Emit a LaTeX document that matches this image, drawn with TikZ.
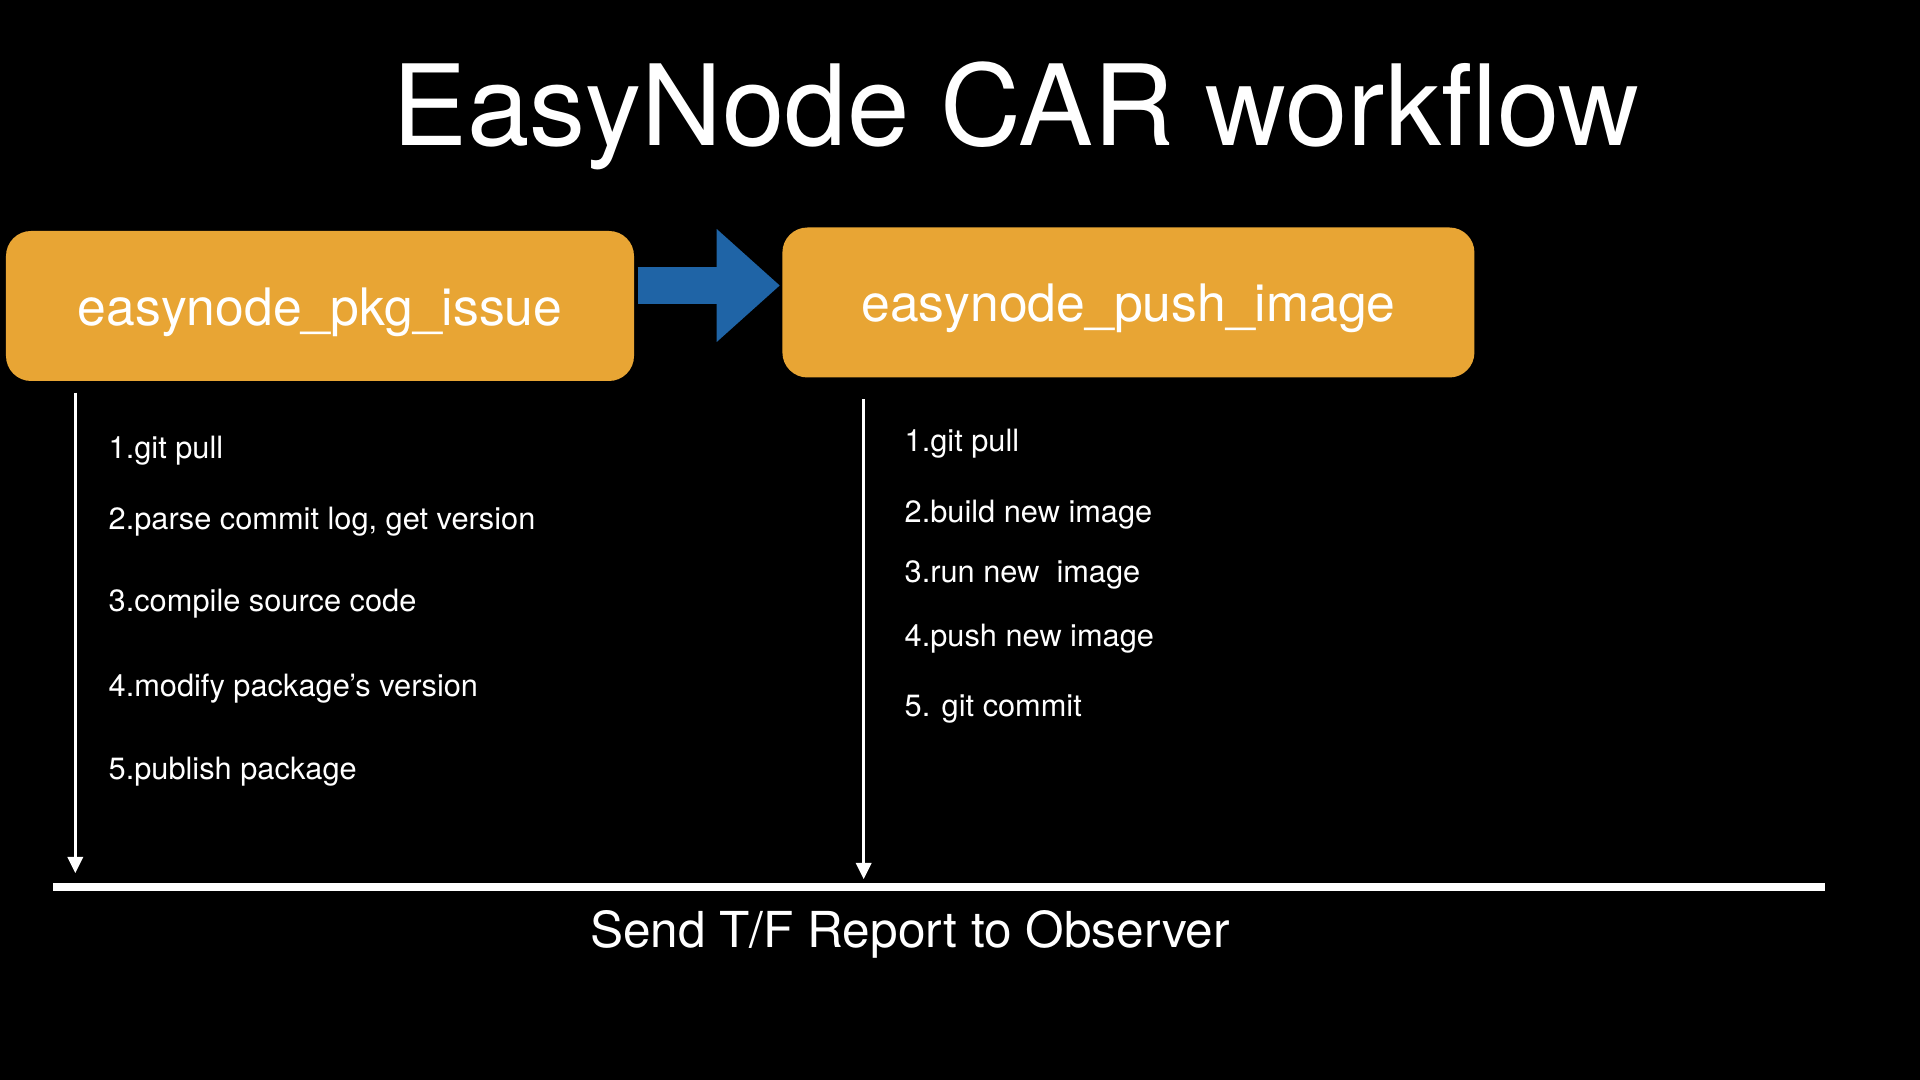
\documentclass[tikz,border=0pt]{standalone}
\usepackage{fontspec}
\setmainfont{TeX Gyre Heros}
\usetikzlibrary{arrows.meta,positioning}

\definecolor{boxorange}{RGB}{232,165,52}
\definecolor{flowblue}{RGB}{31,100,166}

\begin{document}
\begin{tikzpicture}[
    task/.style={rectangle,rounded corners=0.25cm,fill=boxorange,text=white,
                 minimum height=1.50cm,inner sep=0pt,
                 text height=0.43cm,text depth=0.04cm,
                 font=\fontsize{14.7}{17}\selectfont},
    stepitem/.style={anchor=base west,text=white,inner sep=0pt,
                     font=\fontsize{8.75}{11}\selectfont},
    flow/.style={draw=flowblue,line width=0.37cm,
                 -{Triangle[length=0.63cm,width=1.13cm,line width=0pt]}},
    timeline/.style={draw=white,line width=0.03cm,
                     -{Triangle[length=0.16cm,width=0.16cm,line width=0pt]}},
    bar/.style={draw=white,line width=0.08cm}]

    \useasboundingbox (0,0) rectangle (19.2,10.8);
    \fill[black] (0,0) rectangle (19.2,10.8);

    \node[anchor=base,text=white,font=\fontsize{31.9}{36}\selectfont]
         (title) at (10.16,9.34) {EasyNode CAR workflow};

    \node[task,minimum width=6.28cm]  (pkg)  at (3.20,7.74)  {easynode\_pkg\_issue};
    \node[task,minimum width=6.92cm]  (push) [right=1.47cm of pkg,yshift=0.035cm] {easynode\_push\_image};

    \path[flow] ([shift={(0.03,0.205)}]pkg.east) -- ([shift={(-0.02,0.17)}]push.west);

    \coordinate (barwest) at (0.53,1.93);
    \coordinate (bareast) at (18.25,1.93);
    \draw[bar] (barwest) -- (bareast);

    \coordinate (top1) at ([shift={(0.70,-0.11)}]pkg.south west);
    \coordinate (top2) at ([shift={(0.82,-0.21)}]push.south west);
    \draw[timeline,shorten >=0.14cm] (top1) -- (top1 |- barwest);
    \draw[timeline,shorten >=0.08cm] (top2) -- (top2 |- barwest);

    \node[stepitem] (pkg1) at (1.08,6.21) {1.git pull};
    \node[stepitem] (pkg2) at (1.08,5.50) {2.parse commit log, get version};
    \node[stepitem] (pkg3) at (1.08,4.68) {3.compile source code};
    \node[stepitem] (pkg4) at (1.08,3.83) {4.modify package’s version};
    \node[stepitem] (pkg5) at (1.08,3.00) {5.publish package};

    \node[stepitem] (push1) at (9.04,6.28) {1.git pull};
    \node[stepitem] (push2) at (9.04,5.57) {2.build new image};
    \node[stepitem] (push3) at (9.04,4.97) {3.run new\ \ image};
    \node[stepitem] (push4) at (9.04,4.33) {4.push new image};
    \node[stepitem] (push5) at (9.04,3.63) {5. git commit};

    \node[anchor=base,text=white,font=\fontsize{14.1}{17}\selectfont]
         (report) at (9.10,1.32) {Send T/F Report to Observer};

  \end{tikzpicture}
\end{document}
